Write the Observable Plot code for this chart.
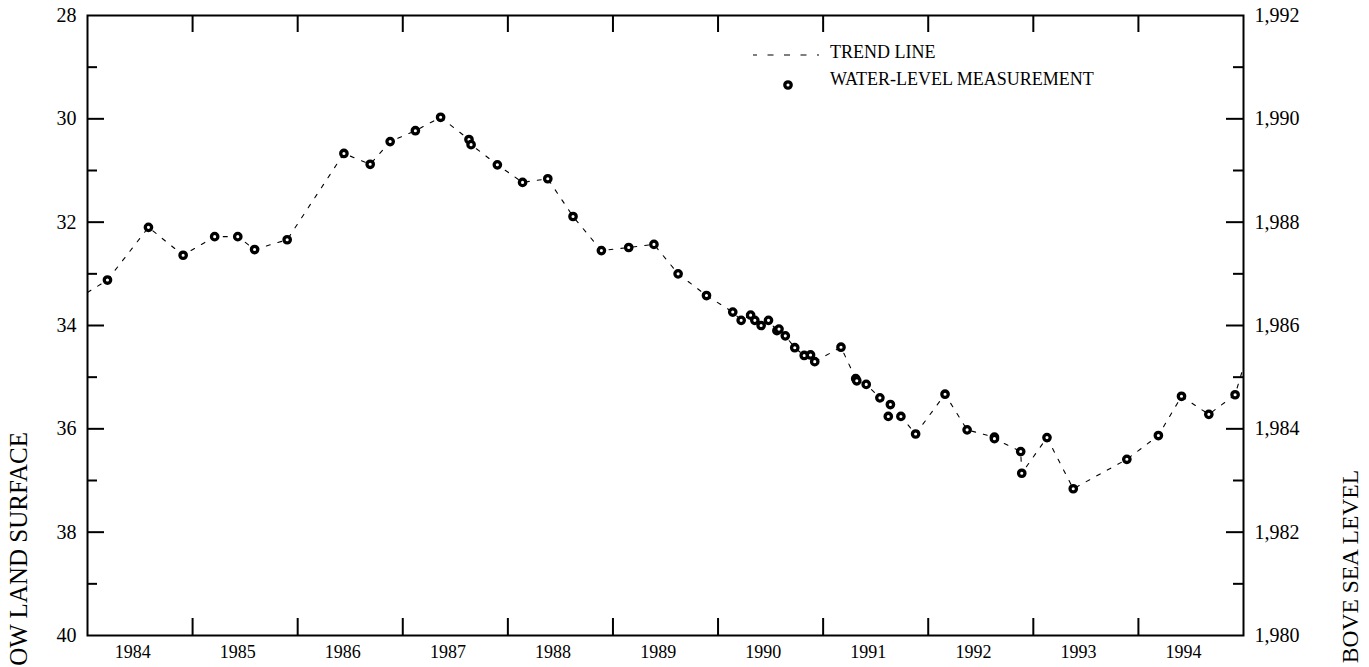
<!DOCTYPE html>
<html><head><meta charset="utf-8">
<script src="https://cdn.jsdelivr.net/npm/d3@7"></script>
<script src="https://cdn.jsdelivr.net/npm/@observablehq/plot@0.6"></script>
<style>
body{margin:0;background:#fff;}
#chart{position:relative;width:1369px;height:667px;overflow:hidden;background:#fff;}
#chart svg, #chart svg text, #chart svg g { font-family: "Liberation Serif", "DejaVu Serif", serif !important; }
</style></head><body><div id="chart"></div>
<script>
// Water-level measurements: decimal year and depth below land surface (feet)
const measureYears = [
  1984.19, 1984.58, 1984.91, 1985.21, 1985.43, 1985.59, 1985.90,
  1986.44, 1986.69, 1986.88, 1987.12, 1987.36, 1987.63, 1987.65, 1987.90,
  1988.14, 1988.38, 1988.62, 1988.89, 1989.15, 1989.39, 1989.62, 1989.89,
  1990.14, 1990.22, 1990.31, 1990.35, 1990.41, 1990.48, 1990.56, 1990.58,
  1990.64, 1990.73, 1990.82, 1990.88, 1990.92, 1991.17, 1991.31, 1991.32,
  1991.41, 1991.54, 1991.64, 1991.62, 1991.74, 1991.88, 1992.16, 1992.37,
  1992.63, 1992.63, 1992.88, 1992.89, 1993.13, 1993.38, 1993.89, 1994.19,
  1994.41, 1994.67, 1994.92
];
const measureDepths = [
  33.12, 32.10, 32.64, 32.28, 32.28, 32.53, 32.34,
  30.67, 30.88, 30.44, 30.23, 29.97, 30.40, 30.50, 30.89,
  31.23, 31.16, 31.89, 32.55, 32.49, 32.43, 33.00, 33.42,
  33.74, 33.90, 33.80, 33.90, 34.00, 33.90, 34.10, 34.07,
  34.20, 34.43, 34.58, 34.57, 34.70, 34.42, 35.03, 35.07,
  35.14, 35.40, 35.53, 35.76, 35.76, 36.10, 35.33, 36.02,
  36.16, 36.19, 36.44, 36.86, 36.17, 37.16, 36.59, 36.13,
  35.37, 35.72, 35.34
];
// Trend line: runs through the measurements and continues to the frame edges
const trendStart = {year: 1984.0, depth: 33.36};
const trendEnd = {year: 1995.0, depth: 34.80};

// Axis ticks and labels
const xTickYears = [1985, 1986, 1987, 1988, 1989, 1990, 1991, 1992, 1993, 1994];
const xLabelYears = [1984, 1985, 1986, 1987, 1988, 1989, 1990, 1991, 1992, 1993, 1994];
const yMajorTicks = [30, 32, 34, 36, 38];
const yMinorTicks = [29, 31, 33, 35, 37, 39];
const yLabelDepths = [28, 30, 32, 34, 36, 38, 40];
const rightLabels = ["1,992", "1,990", "1,988", "1,986", "1,984", "1,982", "1,980"];
const leftTitle = "OW LAND SURFACE";
const rightTitle = "BOVE SEA LEVEL";
const legendItems = ["TREND LINE", "WATER-LEVEL MEASUREMENT"];

const measurements = measureYears.map((t, i) => ({t, v: measureDepths[i]}));
const trend = [{t: trendStart.year, v: trendStart.depth}, ...measurements, {t: trendEnd.year, v: trendEnd.depth}];
const rightTable = yLabelDepths.map((v, i) => ({v, label: rightLabels[i]}));

const W = 1369, H = 667, mL = 87, mR = 126, mT = 15, mB = 32;
const xDom = [1984, 1995], yDom = [28, 40];
const xpx = (xDom[1] - xDom[0]) / (W - mL - mR);
const ypx = (yDom[1] - yDom[0]) / (H - mT - mB);
const major = 17, minor = 10;

const font = "Liberation Serif, DejaVu Serif, serif";

const svg = Plot.plot({
  width: W, height: H,
  marginLeft: mL, marginRight: mR, marginTop: mT, marginBottom: mB,
  x: {domain: xDom, axis: null},
  y: {domain: yDom, reverse: true, axis: null},
  style: {fontFamily: font, background: "white", color: "black"},
  marks: [
    Plot.ruleX(xTickYears, {x: d => d, y1: yDom[1], y2: yDom[1] - major * ypx, stroke: "black", strokeWidth: 2}),
    Plot.ruleX(xTickYears, {x: d => d, y1: yDom[0], y2: yDom[0] + major * ypx, stroke: "black", strokeWidth: 2}),
    Plot.ruleY(yMajorTicks, {y: d => d, x1: xDom[0], x2: xDom[0] + major * xpx, stroke: "black", strokeWidth: 2}),
    Plot.ruleY(yMinorTicks, {y: d => d, x1: xDom[0], x2: xDom[0] + minor * xpx, stroke: "black", strokeWidth: 2}),
    Plot.ruleY(yMajorTicks, {y: d => d, x1: xDom[1], x2: xDom[1] - major * xpx, stroke: "black", strokeWidth: 2}),
    Plot.ruleY(yMinorTicks, {y: d => d, x1: xDom[1], x2: xDom[1] - minor * xpx, stroke: "black", strokeWidth: 2}),
    Plot.line(trend, {x: "t", y: "v", stroke: "black", strokeWidth: 1.1, strokeDasharray: "4,8"}),
    Plot.dot(measurements, {x: "t", y: "v", r: 3.2, stroke: "black", strokeWidth: 3.3, fill: "white"}),
    Plot.frame({stroke: "black", strokeWidth: 2}),
    Plot.text(xLabelYears, {x: d => d + 0.43, y: yDom[1], text: d => String(d), dy: 17, fontSize: 18, fill: "black"}),
    Plot.text(yLabelDepths, {x: xDom[0], y: d => d, text: d => String(d), dx: -11, textAnchor: "end", fontSize: 20, fill: "black"}),
    Plot.text(rightTable, {x: xDom[1], y: "v", text: "label", dx: 11, textAnchor: "start", fontSize: 20, fill: "black"})
  ]
});

const s = d3.select(svg);
s.append("text").attr("transform", "translate(27,432) rotate(-90)")
  .attr("text-anchor", "end").attr("font-size", 25).attr("fill", "black").text(leftTitle);
s.append("text").attr("transform", "translate(1358,470) rotate(-90)")
  .attr("text-anchor", "end").attr("font-size", 23.5).attr("fill", "black").text(rightTitle);

const lg = s.append("g").attr("font-size", 18).attr("fill", "black").attr("text-anchor", "start");
lg.append("line").attr("x1", 753).attr("x2", 819).attr("y1", 55).attr("y2", 55)
  .attr("stroke", "black").attr("stroke-width", 1.1).attr("stroke-dasharray", "6,10.5").attr("stroke-dashoffset", 2);
lg.append("text").attr("x", 830).attr("y", 58).attr("text-anchor", "start").text(legendItems[0]);
lg.append("circle").attr("cx", 788).attr("cy", 85).attr("r", 3.2)
  .attr("stroke", "black").attr("stroke-width", 3.3).attr("fill", "white");
lg.append("text").attr("x", 830).attr("y", 85).attr("text-anchor", "start").text(legendItems[1]);

document.getElementById("chart").appendChild(svg);
</script>
</body></html>
